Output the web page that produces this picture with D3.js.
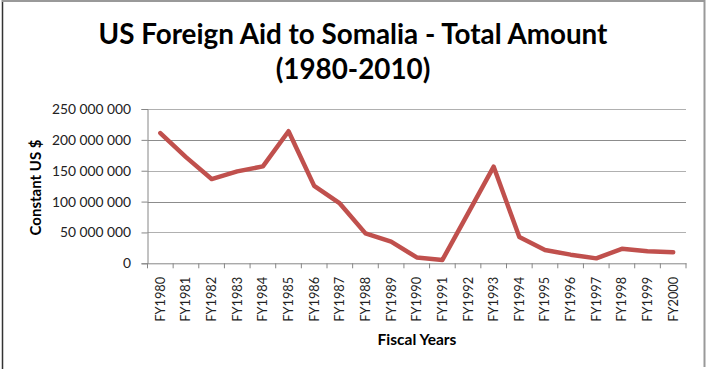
<!DOCTYPE html>
<html><head><meta charset="utf-8">
<script src="https://cdn.jsdelivr.net/npm/d3@7"></script>
<style>body{margin:0;background:#fff}svg{display:block}</style>
</head><body>
<svg id="c" width="706" height="369"></svg>
<script>
const categories = ["FY1980","FY1981","FY1982","FY1983","FY1984","FY1985","FY1986","FY1987","FY1988","FY1989","FY1990","FY1991","FY1992","FY1993","FY1994","FY1995","FY1996","FY1997","FY1998","FY1999","FY2000"];
const values = [211000000,172000000,136500000,149000000,157000000,214000000,125500000,97000000,48500000,35000000,9500000,5500000,81000000,156500000,42500000,21500000,14000000,8000000,23500000,19500000,18000000];
const yTicks = [0,50000000,100000000,150000000,200000000,250000000];
const titleLines = ["US Foreign Aid to Somalia - Total Amount","(1980-2010)"];
const yTitle = "Constant US $";
const xTitle = "Fiscal Years";

const svg = d3.select("#c");
const pL = 147.5, pR = 686, pT = 109, pB = 263.3;
const x = d3.scaleBand().domain(categories).range([pL, pR]);
const y = d3.scaleLinear().domain([0, 250000000]).range([pB, pT]);
const fmt = v => d3.format(",")(v).replace(/,/g, " ");
const FONT = "Lato, 'Open Sans', sans-serif";

// border
svg.append("line").attr("x1",2.5).attr("x2",2.5).attr("y1",0).attr("y2",369).attr("stroke","#333").attr("stroke-width",1.5);
svg.append("line").attr("x1",2).attr("x2",705).attr("y1",1).attr("y2",1).attr("stroke","#999").attr("stroke-width",2);
svg.append("line").attr("x1",704.5).attr("x2",704.5).attr("y1",0).attr("y2",367).attr("stroke","#999").attr("stroke-width",2);

// gridlines
svg.append("g").selectAll("line").data(yTicks.slice(1)).join("line")
  .attr("x1", pL).attr("x2", pR)
  .attr("y1", d => Math.round(y(d)) + 0.5).attr("y2", d => Math.round(y(d)) + 0.5)
  .attr("stroke", (d,i) => i % 2 === 0 ? "#b0b0b0" : "#8c8c8c").attr("stroke-width", 1);

// y axis
const yAxis = d3.axisLeft(y).tickValues(yTicks).tickFormat(fmt).tickSize(6).tickPadding(10.5);
const gy = svg.append("g").attr("transform", `translate(${pL},0)`).call(yAxis);
gy.select(".domain").attr("stroke", "#868686");
gy.selectAll(".tick line").attr("stroke", "#868686");
gy.selectAll(".tick text").attr("font-family", FONT).attr("font-size", 13.8).attr("fill", "#222");

// x axis
const xAxis = d3.axisBottom(x).tickSize(0).tickPadding(0);
const gx = svg.append("g").attr("transform", `translate(0,${pB})`).call(xAxis);
gx.select(".domain").attr("stroke", "#868686");
gx.selectAll(".tick text")
  .attr("font-family", FONT).attr("font-size", 12.8).attr("fill", "#222")
  .attr("transform", "rotate(-90)").attr("text-anchor", "end").attr("dy", "0.35em").attr("x", -13.5).attr("y", 0);
// category boundary ticks
const bounds = categories.map(c => x(c)).concat([pR]);
svg.append("g").selectAll("line").data(bounds).join("line")
  .attr("x1", d => d).attr("x2", d => d).attr("y1", pB).attr("y2", pB + 5)
  .attr("stroke", "#868686");

// line
const line = d3.line().x((d,i) => x(categories[i]) + x.bandwidth()/2).y(d => y(d));
svg.append("path").datum(values).attr("d", line).attr("fill","none")
  .attr("stroke","#c0504d").attr("stroke-width",4.5).attr("stroke-linejoin","round").attr("stroke-linecap","round");

// titles
svg.append("g").selectAll("text").data(titleLines).join("text")
  .attr("x", 353).attr("y", (d,i) => 44 + i*35).attr("text-anchor","middle")
  .attr("font-family",FONT).attr("font-weight","bold").attr("font-size",27.8).attr("fill","#000")
  .text(d => d);
svg.append("text").attr("transform","translate(40.5,187.5) rotate(-90)").attr("text-anchor","middle")
  .attr("font-family",FONT).attr("font-weight","bold").attr("font-size",15).attr("fill","#000")
  .text(yTitle);
svg.append("text").attr("x",417).attr("y",345).attr("text-anchor","middle")
  .attr("font-family",FONT).attr("font-weight","bold").attr("font-size",15.5).attr("fill","#000")
  .text(xTitle);
</script>
</body></html>
